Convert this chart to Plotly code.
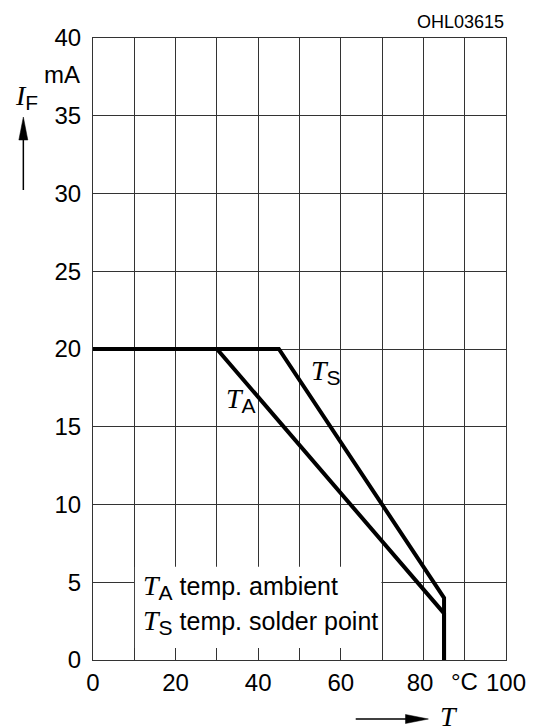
import plotly.graph_objects as go

# Data
ta_temp = [0, 30, 85, 85]
ta_current = [20, 20, 3, 0]
ts_temp = [0, 45, 85, 85]
ts_current = [20, 20, 4, 0]

x_ticks = [0, 10, 20, 30, 40, 50, 60, 70, 80, 90, 100]
x_ticktext = ["0", "", "20", "", "40", "", "60", "", "80\u00a0", "", "100"]
y_ticks = [0, 5, 10, 15, 20, 25, 30, 35, 40]
y_ticktext = ["0", "5", "10", "15", "20", "25", "30", "35", "40"]

SANS = "Liberation Sans, Arial, sans-serif"
SERIF = "Liberation Serif"
GRID = "#333333"

fig = go.Figure()
fig.add_trace(go.Scatter(x=ta_temp, y=ta_current, mode="lines",
                         line=dict(color="black", width=4), showlegend=False))
fig.add_trace(go.Scatter(x=ts_temp, y=ts_current, mode="lines",
                         line=dict(color="black", width=4), showlegend=False))

# white legend box
fig.add_shape(type="rect", xref="x", yref="y", x0=10.15, x1=69.85, y0=0.77, y1=6.0,
              fillcolor="white", line=dict(width=0), layer="above")

# axis direction arrows (paper coordinates)
fig.add_shape(type="line", xref="paper", yref="paper", x0=-0.16867, x1=-0.16867,
              y0=0.7556, y1=0.8392, line=dict(color="black", width=1.5))
fig.add_shape(type="path", xref="paper", yref="paper",
              path="M -0.16867 0.87299 L -0.17952 0.83601 L -0.15783 0.83601 Z",
              fillcolor="black", line=dict(color="black", width=0.5))
fig.add_shape(type="line", xref="paper", yref="paper", x0=0.63614, x1=0.7614,
              y0=-0.09486, y1=-0.09486, line=dict(color="black", width=1.5))
fig.add_shape(type="path", xref="paper", yref="paper",
              path="M 0.81205 -0.09486 L 0.75663 -0.08762 L 0.75663 -0.10209 Z",
              fillcolor="black", line=dict(color="black", width=0.5))

ann = []
def T_label(sub, rest=""):
    return (f'<span style="font-family:{SERIF};font-size:28px"><i>T</i></span>'
            f'<sub><span style="font-size:21px">{sub}</span></sub>{rest}')

ann.append(dict(xref="x", yref="y", x=52.3, y=18.5, xanchor="left", yanchor="middle",
                text=T_label("S"), showarrow=False, font=dict(family=SANS, size=24, color="black")))
ann.append(dict(xref="x", yref="y", x=31.8, y=16.7, xanchor="left", yanchor="middle",
                text=T_label("A"), showarrow=False, font=dict(family=SANS, size=24, color="black")))
ann.append(dict(xref="x", yref="y", x=11.5, y=4.7, xanchor="left", yanchor="middle",
                text=T_label("A", " temp. ambient"), showarrow=False,
                font=dict(family=SANS, size=25, color="black")))
ann.append(dict(xref="x", yref="y", x=11.5, y=2.45, xanchor="left", yanchor="middle",
                text=T_label("S", " temp. solder point"), showarrow=False,
                font=dict(family=SANS, size=25, color="black")))

# axis unit labels
ann.append(dict(xref="x", yref="paper", x=90.0, y=-0.034, xanchor="center", yanchor="middle",
                text="°C", showarrow=False, font=dict(family=SANS, size=24, color="black")))
ann.append(dict(xref="paper", yref="paper", x=-0.0265, y=0.942, xanchor="right", yanchor="middle",
                text="mA", showarrow=False, font=dict(family=SANS, size=24, color="black")))
ann.append(dict(xref="paper", yref="paper", x=-0.161, y=0.905, xanchor="center", yanchor="middle",
                text=f'<span style="font-family:{SERIF};font-size:28px"><i>I</i></span>'
                     f'<sub><span style="font-size:21px">F</span></sub>',
                showarrow=False, font=dict(family=SANS, size=24, color="black")))
ann.append(dict(xref="paper", yref="paper", x=1.0, y=1.026, xanchor="right", yanchor="middle",
                text="OHL03615", showarrow=False, font=dict(family=SANS, size=18, color="black")))
ann.append(dict(xref="paper", yref="paper", x=0.862, y=-0.0916, xanchor="center", yanchor="middle",
                text="<i>T</i>", showarrow=False, font=dict(family=SERIF, size=28, color="black")))

fig.update_layout(
    width=530, height=718,
    margin=dict(l=85, r=30, t=30, b=66),
    paper_bgcolor="white", plot_bgcolor="white",
    annotations=ann,
    xaxis=dict(range=[0, 100], tickvals=x_ticks, ticktext=x_ticktext,
               showgrid=True, gridcolor=GRID, gridwidth=1,
               showline=True, linecolor=GRID, linewidth=1, mirror=True,
               ticks="", ticklabelstandoff=1, zeroline=False,
               tickfont=dict(family=SANS, size=24, color="black")),
    yaxis=dict(range=[0, 40], tickvals=y_ticks, ticktext=y_ticktext,
               showgrid=True, gridcolor=GRID, gridwidth=1,
               showline=True, linecolor=GRID, linewidth=1, mirror=True,
               ticks="", ticklabelstandoff=6, zeroline=False,
               tickfont=dict(family=SANS, size=24, color="black")),
)

fig.write_html("out.html")
